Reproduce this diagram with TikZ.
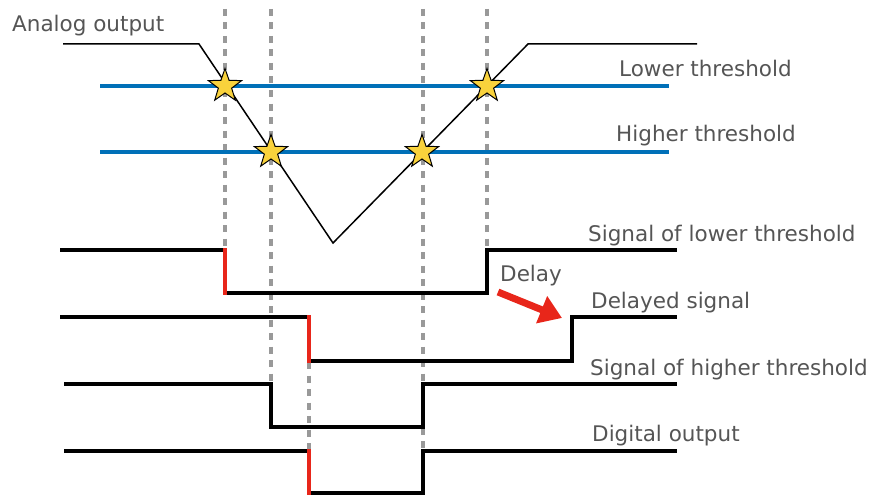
\documentclass[tikz,border=0pt]{standalone}
\usepackage{fontspec}
\setmainfont{DejaVu Sans}
\usetikzlibrary{shapes.geometric,arrows.meta}
\definecolor{txtgray}{HTML}{555555}
\definecolor{thblue}{HTML}{0070B8}
\definecolor{sigred}{HTML}{E8261A}
\definecolor{dashgray}{HTML}{999999}
\definecolor{staryellow}{HTML}{F9D23C}
\begin{document}
\begin{tikzpicture}[x=1pt,y=-1pt,
 lbl/.style={anchor=base west, inner sep=0pt, text=txtgray, font=\fontsize{21.5}{24}\selectfont},
 guide/.style={draw=dashgray, line width=3.5pt, dash pattern=on 7pt off 6.5pt},
 thresh/.style={draw=thblue, line width=4pt},
 analog/.style={draw=black, line width=1.5pt},
 sig/.style={draw=black, line width=4.5pt, line join=miter},
 redge/.style={draw=sigred, line width=4.5pt},
 xstar/.style={star, star points=5, star point ratio=2.5, minimum size=35pt, inner sep=0pt, fill=staryellow, draw=black, line width=1pt},
 delayarrow/.style={draw=sigred, line width=7pt, -{Triangle[length=22pt,width=28pt]}}
]
\useasboundingbox (0,0) rectangle (873,495);
% guide lines
\draw[guide] (225,9) -- (225,250);
\draw[guide] (271,9) -- (271,383);
\draw[guide] (423,9) -- (423,450);
\draw[guide] (487,9) -- (487,248);
\draw[guide] (309,362) -- (309,450);
% thresholds
\draw[thresh] (100,86) -- (669,86);
\draw[thresh] (100,152) -- (669,152);
% analog output
\draw[analog] (63,44) -- (199,44) -- (333,243) -- (528,44) -- (697,44);
% stars
\node[xstar] (s1) at (225,86) {};
\node[xstar] (s2) at (271,152) {};
\node[xstar] (s3) at (422,152) {};
\node[xstar] (s4) at (487,86) {};
% signals
\draw[sig] (60,250) -- (225,250) -- (225,293) -- (487,293) -- (487,250) -- (677,250);
\draw[sig] (60,317) -- (309,317) -- (309,361) -- (572,361) -- (572,317) -- (677,317);
\draw[sig] (64,384) -- (271,384) -- (271,427) -- (423,427) -- (423,384) -- (677,384);
\draw[sig] (64,451) -- (309,451) -- (309,493) -- (423,493) -- (423,451) -- (677,451);
\draw[redge] (225,248) -- (225,295);
\draw[redge] (309,315) -- (309,363);
\draw[redge] (309,449) -- (309,495);
% delay arrow
\coordinate (dtail) at (498,292);
\coordinate (dhead) at (562,318);
\draw[delayarrow] (dtail) -- (dhead);
% labels
\node[lbl] (analog) at (12,31.5) {Analog output};
\node[lbl] (lower) at (619,76.5) {Lower threshold};
\node[lbl] (higher) at (616,141.5) {Higher threshold};
\node[lbl] (sl) at (588,241.5) {Signal of lower threshold};
\node[lbl] (delay) at (500,281) {Delay};
\node[lbl] (ds) at (591,308) {Delayed signal};
\node[lbl] (sh) at (590,375.5) {Signal of higher threshold};
\node[lbl] (dout) at (592,441.5) {Digital output};
\end{tikzpicture}
\end{document}
